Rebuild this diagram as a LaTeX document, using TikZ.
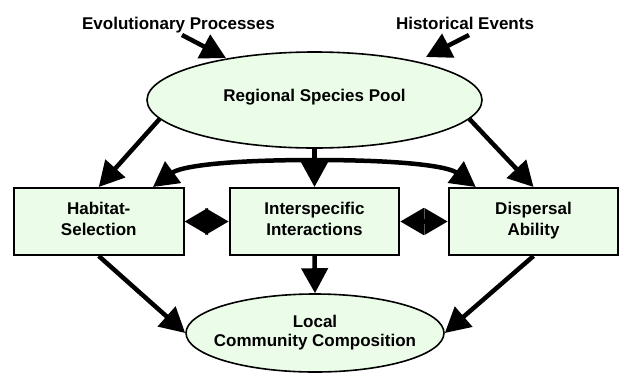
\documentclass[tikz,border=0pt]{standalone}
\usepackage{fontspec}
\setmainfont{Liberation Sans}
\usetikzlibrary{arrows.meta,shapes.geometric}
\definecolor{pale}{RGB}{235,253,232}
\newcommand{\lowstrut}{\rule[-5bp]{0pt}{5bp}}
\begin{document}
\begin{tikzpicture}[x=1bp,y=-1bp,
  every node/.style={font=\fontsize{17bp}{21.5bp}\selectfont\bfseries},
  ell/.style={ellipse, draw, line width=1.6bp, fill=pale, inner sep=0pt, align=center},
  box/.style={draw, line width=2bp, fill=pale, minimum width=169.5bp, minimum height=67bp, inner sep=0pt, align=center},
  lbl/.style={anchor=base, inner sep=0pt},
  bigarrow/.style={line width=4.5bp, -{Triangle[length=25bp,width=26bp]}},
  dblarrow/.style={line width=4.5bp, {Triangle[length=23.5bp,width=26bp]}-{Triangle[length=23.5bp,width=26bp]}},
  curvearrow/.style={line width=4.5bp, {Triangle[length=25bp,width=26bp]}-{Triangle[length=25bp,width=26bp]}}]
\useasboundingbox (0,0) rectangle (624,376);

% labels
\node[lbl] (evo) at (178.5,29.5) {Evolutionary Processes};
\node[lbl] (hist) at (465,29.5) {Historical Events};

% shapes
\node[ell, minimum width=335bp, minimum height=96bp] (reg) at (314.5,100) {Regional Species Pool\rule[-9.4bp]{0pt}{9.4bp}};
\node[box] (hab) at (98.75,221.5) {Habitat-\\Selection\lowstrut};
\node[box] (inter) at (314.5,221.5) {Interspecific\\Interactions\lowstrut};
\node[box] (disp) at (533.5,221.5) {Dispersal\\Ability\lowstrut};
\node[ell, minimum width=258bp, minimum height=78bp, inner xsep=-30bp,
  font=\fontsize{17bp}{19bp}\selectfont\bfseries] (loc) at (315,333) {Local\\Community Composition};

% free ends
\coordinate (evoT) at (182,35);
\coordinate (evoH) at (226,58);
\coordinate (histT) at (469,35);
\coordinate (histH) at (426,57);

% connectors
\draw[bigarrow] (evoT) -- (evoH);
\draw[bigarrow] (histT) -- (histH);
\draw[bigarrow] (reg.187.5) -- (hab.north);
\draw[bigarrow] (reg.-7.5) -- (disp.north);
\draw[bigarrow] (reg.south) -- (inter.north);
\draw[bigarrow] (inter.south) -- (loc.north);
\draw[bigarrow] (hab.south) -- (loc.west);
\draw[bigarrow] (disp.south) -- (loc.east);
\draw[dblarrow] (hab.east) -- (inter.west);
\draw[dblarrow] (inter.east) -- (disp.west);
\draw[curvearrow] ([xshift=-31.5bp]hab.north east) .. controls (180,167) and (220,160) .. (314.5,160) .. controls (409,160) and (449,167) .. ([xshift=28bp]disp.north west);
\end{tikzpicture}
\end{document}
